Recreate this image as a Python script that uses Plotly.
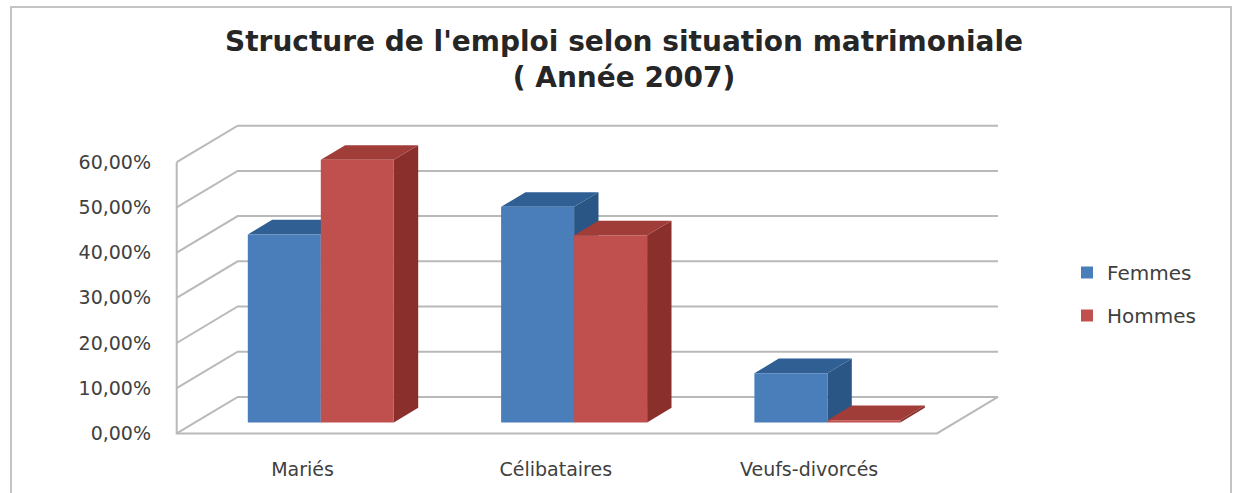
import plotly.graph_objects as go

# ---------------- data ----------------
categories = ["Mariés", "Célibataires", "Veufs-divorcés"]
femmes = [41.6, 47.7, 10.9]
hommes = [58.1, 41.4, 0.5]
series_names = ["Femmes", "Hommes"]
y_ticks = [0, 10, 20, 30, 40, 50, 60]
tick_labels = [f"{v:.2f}".replace(".", ",") + "%" for v in y_ticks]

# ---------------- styling / pseudo-3D geometry ----------------
W, H = 1237, 493
ML, MR, MT, MB = 152, 227, 108, 37
PX_PER_CAT = 253.3
X_MIN = (ML - 302.5) / PX_PER_CAT
X_MAX = X_MIN + (W - ML - MR) / PX_PER_CAT
Y_MIN, Y_MAX = -5, 72
PX_PER_PCT = (H - MT - MB) / (Y_MAX - Y_MIN)

X_LEFT = (176.7 - 302.5) / PX_PER_CAT     # front-left edge of the walls
X_RIGHT = (937 - 302.5) / PX_PER_CAT      # front-right edge of the floor
DX = 61 / PX_PER_CAT                      # full depth, x component
DY = 36.5 / PX_PER_PCT                    # full depth, y component
F_FRONT, F_DEPTH = 0.30, 0.40             # bar front plane / bar depth (fractions of depth)
BAR_W = 73 / PX_PER_CAT

front_colors = ["#4a7ebb", "#c0504d"]
top_colors = ["#2f5f93", "#a13d39"]
side_colors = ["#2a5686", "#8a2f2c"]
grid_color = "#b9b9b9"
text_color = "#404040"

fig = go.Figure()
shapes = []

# back wall gridlines, side wall lines and floor
for v in y_ticks:
    shapes.append(dict(
        type="path", xref="x", yref="y", layer="below",
        path=f"M{X_LEFT},{v} L{X_LEFT + DX},{v + DY} L{X_RIGHT + DX},{v + DY}",
        line=dict(color=grid_color, width=2)))
shapes.append(dict(
    type="path", xref="x", yref="y", layer="below",
    path=f"M{X_LEFT},{y_ticks[-1]} L{X_LEFT},0 L{X_RIGHT},0 L{X_RIGHT + DX},{DY}",
    line=dict(color=grid_color, width=2)))

bx = F_FRONT * DX
by = F_FRONT * DY
ddx = F_DEPTH * DX
ddy = F_DEPTH * DY

for s, (name, vals) in enumerate(zip(series_names, [femmes, hommes])):
    xs = []
    for i, v in enumerate(vals):
        x0 = i + bx + (s - 1) * BAR_W
        x1 = x0 + BAR_W
        xs.append((x0 + x1) / 2)
        top = v + by
        # right side face
        shapes.append(dict(
            type="path", xref="x", yref="y", layer="below",
            path=f"M{x1},{by} L{x1},{top} L{x1 + ddx},{top + ddy} L{x1 + ddx},{by + ddy} Z",
            fillcolor=side_colors[s], line=dict(width=0)))
        # top face
        shapes.append(dict(
            type="path", xref="x", yref="y", layer="below",
            path=f"M{x0},{top} L{x1},{top} L{x1 + ddx},{top + ddy} L{x0 + ddx},{top + ddy} Z",
            fillcolor=top_colors[s], line=dict(width=0)))
    fig.add_trace(go.Bar(
        x=xs, y=vals, base=[by] * len(vals), width=BAR_W, name=name,
        legendgroup=name,
        marker=dict(color=front_colors[s], line=dict(width=0)),
        hovertemplate="%{y:.2f}%<extra>" + name + "</extra>"))

# outer frame
pw, ph = W - ML - MR, H - MT - MB
def px2paper_x(px):
    return (px - ML) / pw
def py2paper_y(py):
    return (H - MB - py) / ph
frame_l, frame_r, frame_t, frame_b = 11, 1231, 7, 500
shapes.append(dict(
    type="path", xref="paper", yref="paper", layer="above",
    path=(f"M{px2paper_x(frame_l)},{py2paper_y(frame_b)} L{px2paper_x(frame_l)},{py2paper_y(frame_t)} "
          f"L{px2paper_x(frame_r)},{py2paper_y(frame_t)} L{px2paper_x(frame_r)},{py2paper_y(frame_b)}"),
    line=dict(color="#c4c4c4", width=2)))

fig.update_layout(
    width=W, height=H,
    margin=dict(l=ML, r=MR, t=MT, b=MB, autoexpand=False),
    paper_bgcolor="white", plot_bgcolor="white",
    barmode="overlay",
    shapes=shapes,
    title=dict(
        text="Structure de l'emploi selon situation matrimoniale<br>( Année 2007)",
        x=624 / W, xanchor="center", xref="container",
        y=1 - 51 / H, yanchor="top", yref="container",
        font=dict(family="DejaVu Sans", size=28, color="#262626", weight="bold")),
    xaxis=dict(
        range=[X_MIN, X_MAX], tickvals=list(range(len(categories))), ticktext=categories,
        showgrid=False, zeroline=False, showline=False, ticks="", automargin=False,
        tickfont=dict(family="DejaVu Sans", size=19, color=text_color)),
    yaxis=dict(
        range=[Y_MIN, Y_MAX], tickvals=y_ticks, ticktext=tick_labels,
        showgrid=False, zeroline=False, showline=False, ticks="", automargin=False,
        tickfont=dict(family="DejaVu Sans", size=19, color=text_color)),
    legend=dict(
        x=px2paper_x(1067), xanchor="left", y=py2paper_y(253), yanchor="top",
        font=dict(family="DejaVu Sans", size=20, color=text_color),
        tracegroupgap=14, bgcolor="rgba(0,0,0,0)"),
    showlegend=True,
)

fig.write_html("out.html", config={"displayModeBar": False},
               post_script="document.body.style.margin='0';")
